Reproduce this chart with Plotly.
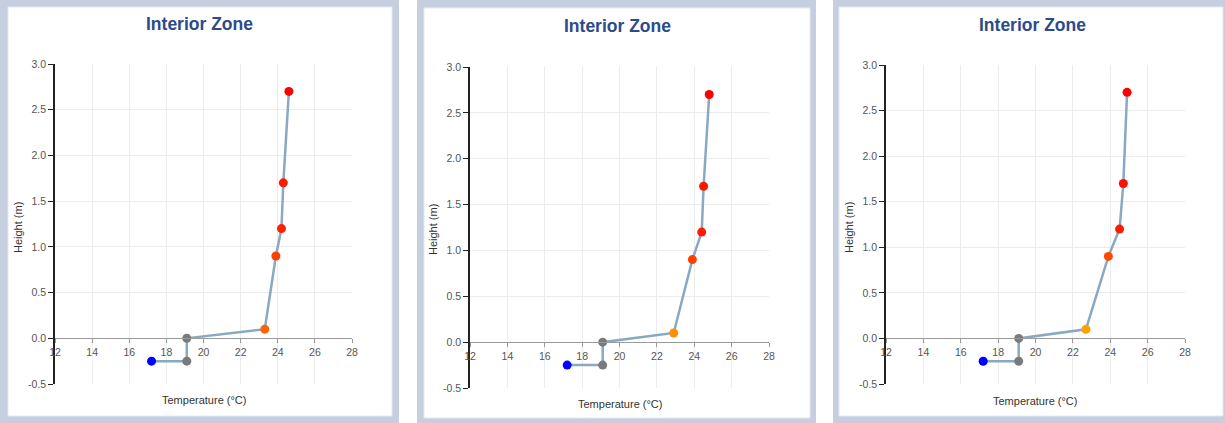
import plotly.graph_objects as go

# Vertical temperature profiles for three cases of the interior zone
heights = [-0.25, -0.25, 0.0, 0.1, 0.9, 1.2, 1.7, 2.7]
temps_a = [17.2, 19.1, 19.1, 23.3, 23.9, 24.2, 24.3, 24.6]
temps_b = [17.2, 19.1, 19.1, 22.9, 23.9, 24.4, 24.5, 24.8]
temps_c = [17.2, 19.1, 19.1, 22.7, 23.9, 24.5, 24.7, 24.9]

x_ticks = [12, 14, 16, 18, 20, 22, 24, 26, 28]
x_tick_labels = ["12", "14", "16", "18", "20", "22", "24", "26", "28"]
y_ticks = [-0.5, 0.0, 0.5, 1.0, 1.5, 2.0, 2.5, 3.0]
y_tick_labels = ["-0.5", "0.0", "0.5", "1.0", "1.5", "2.0", "2.5", "3.0"]

panel_title = "Interior Zone"
x_title = "Temperature (°C)"
y_title = "Height (m)"

# marker colours per point (supply, floor, floor, near-floor, ... , ceiling)
colors_a = ["#0000ff", "#7a7a7a", "#7a7a7a", "#ff6400", "#ff4000", "#ff2000", "#ff1a00", "#ff0000"]
colors_b = ["#0000ff", "#7a7a7a", "#7a7a7a", "#ff9000", "#ff4000", "#ff1a00", "#ff1500", "#ff0000"]
colors_c = ["#0000ff", "#7a7a7a", "#7a7a7a", "#ffa000", "#ff4800", "#ff1a00", "#ff1000", "#ff0000"]

W, H = 1225, 423

# pixel geometry of each card: frame box, inner box, plot box, title centre
panels = [
    dict(temps=temps_a, colors=colors_a, frame=(0, 0, 399, 423), inner=(8, 7, 392, 416),
         plot=(55, 64, 352, 384), title_xy=(200, 24), xt=(204, 400), yt=(18, 228)),
    dict(temps=temps_b, colors=colors_b, frame=(417, 0, 816, 423), inner=(424, 8, 810, 418),
         plot=(470, 67, 769, 388), title_xy=(617, 26), xt=(620, 404), yt=(433, 230)),
    dict(temps=temps_c, colors=colors_c, frame=(833, 0, 1225, 423), inner=(839, 7, 1223, 416),
         plot=(886, 65, 1185, 384), title_xy=(1032, 25), xt=(1035, 401), yt=(849, 228)),
]

def px(x):
    return x / W

def py(y):
    return 1 - y / H

fig = go.Figure()
shapes = []
annotations = []
font_family = "Liberation Sans, Arial, sans-serif"
Y_MIN, Y_MAX = -0.5, 3.0

for i, p in enumerate(panels, start=1):
    sfx = "" if i == 1 else str(i)
    x0, y0, x1, y1 = p["plot"]
    ydom = [py(y1), py(y0)]
    xdom = [px(x0), px(x1)]
    zero_pos = ydom[0] + (ydom[1] - ydom[0]) * (0 - Y_MIN) / (Y_MAX - Y_MIN)

    fig.add_trace(go.Scatter(
        x=p["temps"], y=heights, mode="lines+markers",
        line=dict(color="#88a9c2", width=2.5),
        marker=dict(color=p["colors"], size=9, line=dict(width=0)),
        xaxis="x" + sfx, yaxis="y" + sfx, showlegend=False, hoverinfo="x+y",
    ))

    fig.layout["xaxis" + sfx] = dict(
        domain=xdom, range=[12, 28], anchor="free", position=zero_pos,
        automargin=False,
        tickmode="array", tickvals=x_ticks, ticktext=x_tick_labels,
        showgrid=True, gridcolor="#ececec", gridwidth=1, zeroline=False,
        showline=True, linecolor="#9a9a9a", linewidth=1,
        ticks="outside", ticklen=4, tickcolor="#9a9a9a",
        tickfont=dict(family=font_family, size=10.5, color="#555555"),
        fixedrange=True,
    )
    fig.layout["yaxis" + sfx] = dict(
        domain=ydom, range=[Y_MIN, Y_MAX], anchor="x" + sfx,
        automargin=False,
        tickmode="array", tickvals=y_ticks, ticktext=y_tick_labels,
        showgrid=True, gridcolor="#ececec", gridwidth=1, zeroline=False,
        showline=True, linecolor="#222222", linewidth=1.5,
        ticks="outside", ticklen=5, tickcolor="#222222",
        tickfont=dict(family=font_family, size=10.5, color="#555555"),
        fixedrange=True,
    )

    # card frame and white inner panel
    fx0, fy0, fx1, fy1 = p["frame"]
    shapes.append(dict(type="rect", xref="paper", yref="paper", layer="below",
                       x0=px(fx0), x1=px(fx1), y0=py(fy1), y1=py(fy0),
                       fillcolor="#c6cfe0", line=dict(width=0)))
    ix0, iy0, ix1, iy1 = p["inner"]
    shapes.append(dict(type="rect", xref="paper", yref="paper", layer="below",
                       x0=px(ix0), x1=px(ix1), y0=py(iy1), y1=py(iy0),
                       fillcolor="#ffffff", line=dict(width=1, color="#e4e8f0")))

    tx, ty = p["title_xy"]
    annotations.append(dict(text="<b>" + panel_title + "</b>", xref="paper", yref="paper",
                            x=px(tx), y=py(ty), xanchor="center", yanchor="middle",
                            showarrow=False,
                            font=dict(family=font_family, size=17.5, color="#2d4a8a")))
    ax, ay = p["xt"]
    annotations.append(dict(text=x_title, xref="paper", yref="paper",
                            x=px(ax), y=py(ay), xanchor="center", yanchor="middle",
                            showarrow=False,
                            font=dict(family=font_family, size=11, color="#333333")))
    bx, by = p["yt"]
    annotations.append(dict(text=y_title, xref="paper", yref="paper", textangle=-90,
                            x=px(bx), y=py(by), xanchor="center", yanchor="middle",
                            showarrow=False,
                            font=dict(family=font_family, size=11, color="#333333")))

fig.update_layout(
    template="none",
    width=W, height=H, margin=dict(l=0, r=0, t=0, b=0, pad=0, autoexpand=False),
    paper_bgcolor="#ffffff", plot_bgcolor="rgba(0,0,0,0)",
    shapes=shapes, annotations=annotations,
)

fig.write_html("out.html", config={"displayModeBar": False})
